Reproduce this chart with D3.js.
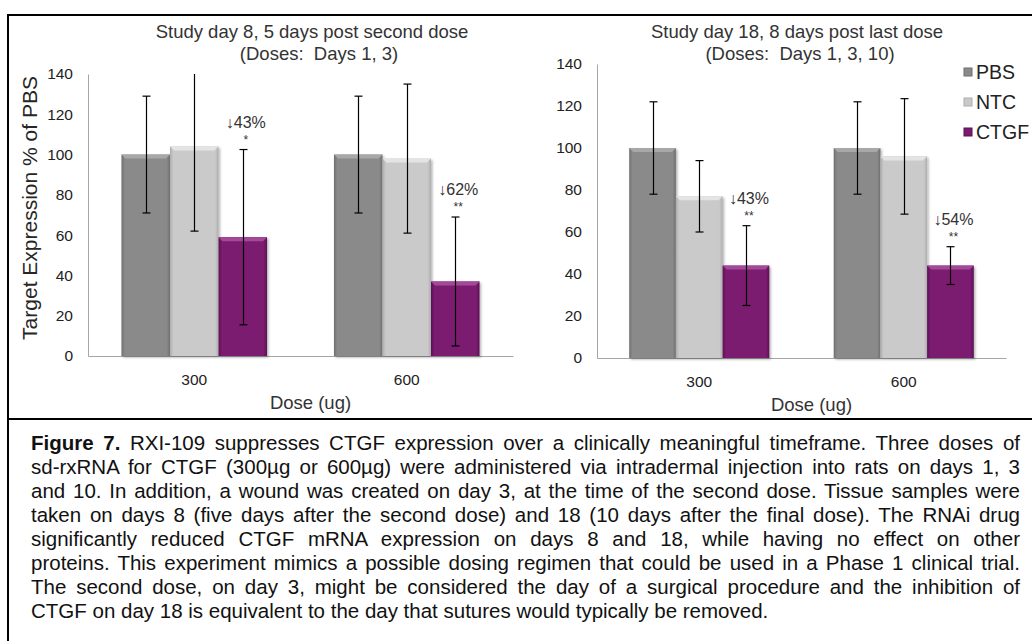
<!DOCTYPE html>
<html>
<head>
<meta charset="utf-8">
<script src="https://cdn.jsdelivr.net/npm/d3@7"></script>
<style>
  body { margin: 0; background: #fff; }
  svg { display: block; font-family: "Liberation Sans", Arial, sans-serif; }
  .pre { white-space: pre; }
</style>
</head>
<body>
<svg id="fig" width="1032" height="641"></svg>
<script>
const doses = ['300', '600'];
const treatments = ['PBS', 'NTC', 'CTGF'];
const yTicks = [0, 20, 40, 60, 80, 100, 120, 140];

// Study day 8 (doses on days 1, 3)
const day8PBS = [100, 100];
const day8NTC = [104, 98];
const day8CTGF = [59, 37];
const day8PBSErr = [29, 29];
const day8NTCErr = [42, 37];
const day8CTGFErr = [43.5, 32];
const day8Drop = ['↓43%', '↓62%'];
const day8Stars = ['*', '**'];

// Study day 18 (doses on days 1, 3, 10)
const day18PBS = [100, 100];
const day18NTC = [77, 96];
const day18CTGF = [44, 44];
const day18PBSErr = [22, 22];
const day18NTCErr = [17, 27.5];
const day18CTGFErr = [19, 9];
const day18Drop = ['↓43%', '↓54%'];
const day18Stars = ['**', '**'];

const captionLines = [
  'RXI-109 suppresses CTGF expression over a clinically meaningful timeframe. Three doses of',
  'sd-rxRNA for CTGF (300µg or 600µg) were administered via intradermal injection into rats on days 1, 3',
  'and 10. In addition, a wound was created on day 3, at the time of the second dose. Tissue samples were',
  'taken on days 8 (five days after the second dose) and 18 (10 days after the final dose). The RNAi drug',
  'significantly reduced CTGF mRNA expression on days 8 and 18, while having no effect on other',
  'proteins. This experiment mimics a possible dosing regimen that could be used in a Phase 1 clinical trial.',
  'The second dose, on day 3, might be considered the day of a surgical procedure and the inhibition of',
  'CTGF on day 18 is equivalent to the day that sutures would typically be removed.'
];

const colors = {
  PBS:  { base: '#8a8a8a', edge: '#6f6f6f', top: '#a8a8a8' },
  NTC:  { base: '#cacaca', edge: '#adadad', top: '#e4e4e4' },
  CTGF: { base: '#7c1b71', edge: '#5a1052', top: '#a24a97' }
};

const svg = d3.select('#fig');
svg.append('rect').attr('width', 1032).attr('height', 641).attr('fill', '#fff');

const defs = svg.append('defs');
treatments.forEach(t => {
  const g = defs.append('linearGradient').attr('id', 'grad-' + t)
    .attr('x1', 0).attr('x2', 1).attr('y1', 0).attr('y2', 0);
  g.append('stop').attr('offset', 0).attr('stop-color', colors[t].edge);
  g.append('stop').attr('offset', 0.07).attr('stop-color', colors[t].base);
  g.append('stop').attr('offset', 0.93).attr('stop-color', colors[t].base);
  g.append('stop').attr('offset', 1).attr('stop-color', colors[t].edge);
});
defs.append('filter').attr('id', 'shadow').attr('x', -0.2).attr('y', -0.2).attr('width', 1.4).attr('height', 1.4)
  .append('feDropShadow').attr('dx', 1.5).attr('dy', 1.5).attr('stdDeviation', 1.2)
  .attr('flood-color', '#000').attr('flood-opacity', 0.3);

// frame
svg.append('path')
  .attr('d', 'M1040,15 H8 V660')
  .attr('fill', 'none').attr('stroke', '#000').attr('stroke-width', 2);
svg.append('line').attr('x1', 8).attr('x2', 1040).attr('y1', 419).attr('y2', 419)
  .attr('stroke', '#000').attr('stroke-width', 2);

const panels = [
  {
    id: 'd8', left: 88, right: 513, top: 74, bottom: 356,
    title: ['Study day 8, 5 days post second dose', '(Doses:  Days 1, 3)'], titleX: [312, 319],
    means: [day8PBS, day8NTC, day8CTGF], errs: [day8PBSErr, day8NTCErr, day8CTGFErr],
    drop: day8Drop, stars: day8Stars
  },
  {
    id: 'd18', left: 597, right: 1006, top: 64, bottom: 358,
    title: ['Study day 18, 8 days post last dose', '(Doses:  Days 1, 3, 10)'], titleX: [797, 800],
    means: [day18PBS, day18NTC, day18CTGF], errs: [day18PBSErr, day18NTCErr, day18CTGFErr],
    drop: day18Drop, stars: day18Stars
  }
];

panels.forEach(p => {
  const x0 = d3.scaleBand().domain(doses).range([p.left, p.right])
    .paddingInner(0.315).paddingOuter(0.1575);
  const x1 = d3.scaleBand().domain(treatments).range([0, x0.bandwidth()]);
  const y = d3.scaleLinear().domain([0, 140]).range([p.bottom, p.top]);

  // titles
  p.title.forEach((t, i) => {
    svg.append('text').attr('class', 'pre').attr('x', p.titleX[i]).attr('y', 38 + i * 22)
      .attr('text-anchor', 'middle').attr('font-size', 18.5).attr('fill', '#333').text(t);
  });

  // axes
  const yAxis = svg.append('g').attr('transform', `translate(${p.left},0)`)
    .call(d3.axisLeft(y).tickValues(yTicks).tickSize(0).tickSizeOuter(0).tickPadding(15));
  yAxis.select('.domain').attr('stroke', '#a6a6a6');
  yAxis.selectAll('text').attr('font-size', 15.5).attr('fill', '#222')
    .attr('font-family', '"Liberation Sans", Arial, sans-serif');

  const xAxis = svg.append('g').attr('transform', `translate(0,${p.bottom})`)
    .call(d3.axisBottom(x0).tickSize(0).tickSizeOuter(0).tickPadding(18));
  xAxis.select('.domain').attr('stroke', '#a6a6a6');
  xAxis.selectAll('text').attr('font-size', 15.5).attr('fill', '#222')
    .attr('font-family', '"Liberation Sans", Arial, sans-serif');

  svg.append('text').attr('x', (p.left + p.right) / 2 + 10).attr('y', p.bottom + 53)
    .attr('text-anchor', 'middle').attr('font-size', 18.5).attr('fill', '#333').text('Dose (ug)');

  // bars
  const rows = [];
  doses.forEach((d, i) => treatments.forEach((t, j) => {
    rows.push({ dose: d, t: t, i: i, m: p.means[j][i], e: p.errs[j][i] });
  }));

  const bars = svg.append('g').attr('filter', 'url(#shadow)');
  bars.selectAll('rect').data(rows).enter().append('rect')
    .attr('x', r => x0(r.dose) + x1(r.t))
    .attr('y', r => y(r.m))
    .attr('width', x1.bandwidth())
    .attr('height', r => y(0) - y(r.m))
    .attr('fill', r => 'url(#grad-' + r.t + ')');
  svg.append('g').selectAll('path').data(rows).enter().append('path')
    .attr('d', r => {
      const bx = x0(r.dose) + x1(r.t), w = x1.bandwidth(), by = y(r.m);
      return `M${bx},${by}H${bx + w}L${bx + w - 4},${by + 4}H${bx + 4}Z`;
    })
    .attr('fill', r => colors[r.t].top);

  // error bars, clipped to the plot area
  defs.append('clipPath').attr('id', 'clip-' + p.id).append('rect')
    .attr('x', p.left).attr('y', p.top).attr('width', p.right - p.left).attr('height', p.bottom - p.top);
  const eb = svg.append('g').attr('clip-path', `url(#clip-${p.id})`)
    .attr('stroke', '#000').attr('stroke-width', 1.2);
  rows.forEach(r => {
    const cx = Math.round(x0(r.dose) + x1(r.t) + x1.bandwidth() / 2) + 0.5;
    eb.append('line').attr('x1', cx).attr('x2', cx).attr('y1', y(r.m + r.e)).attr('y2', y(r.m - r.e));
    [r.m + r.e, r.m - r.e].forEach(v => {
      eb.append('line').attr('x1', cx - 4).attr('x2', cx + 4).attr('y1', y(v)).attr('y2', y(v));
    });
  });

  // reduction labels above CTGF bars
  doses.forEach((d, i) => {
    const m = p.means[2][i], e = p.errs[2][i];
    const cx = x0(d) + x1('CTGF') + x1.bandwidth() / 2 + 3;
    const capY = y(m + e);
    svg.append('text').attr('x', cx).attr('y', capY - 22).attr('text-anchor', 'middle')
      .attr('font-size', 16).attr('fill', '#333').text(p.drop[i]);
    svg.append('text').attr('x', cx).attr('y', capY - 6).attr('text-anchor', 'middle')
      .attr('font-size', 12).attr('fill', '#333').text(p.stars[i]);
  });

  if (p.id === 'd8') {
    svg.append('text').attr('transform', `translate(37,208) rotate(-90)`)
      .attr('text-anchor', 'middle').attr('font-size', 21).attr('fill', '#262626')
      .text('Target Expression % of PBS');
  }
});

// legend (nudged left so the last entry is not clipped at the page edge)
const legend = svg.append('g');
treatments.forEach((t, i) => {
  const ly = 72 + i * 30;
  legend.append('rect').attr('x', 964).attr('y', ly - 4).attr('width', 8).attr('height', 8)
    .attr('fill', colors[t].base).attr('stroke', colors[t].edge).attr('stroke-width', 1);
  legend.append('text').attr('x', 976).attr('y', ly + 7).attr('font-size', 19.5).attr('fill', '#222').text(t);
});

// caption, justified line by line
const capLeft = 31, capRight = 1020;
captionLines.forEach((line, i) => {
  const txt = svg.append('text').attr('x', capLeft).attr('y', 450 + i * 24.05)
    .attr('font-size', 20.5).attr('fill', '#111');
  if (i === 0) {
    txt.append('tspan').attr('font-weight', 'bold').text('Figure 7.');
    txt.append('tspan').text(' ' + line);
  } else {
    txt.text(line);
  }
  if (i < captionLines.length - 1) {
    const full = i === 0 ? 'Figure 7. ' + line : line;
    const spaces = full.split(' ').length - 1;
    const natural = txt.node().getComputedTextLength();
    txt.attr('word-spacing', (capRight - capLeft - natural) / spaces);
  }
});
</script>
</body>
</html>
